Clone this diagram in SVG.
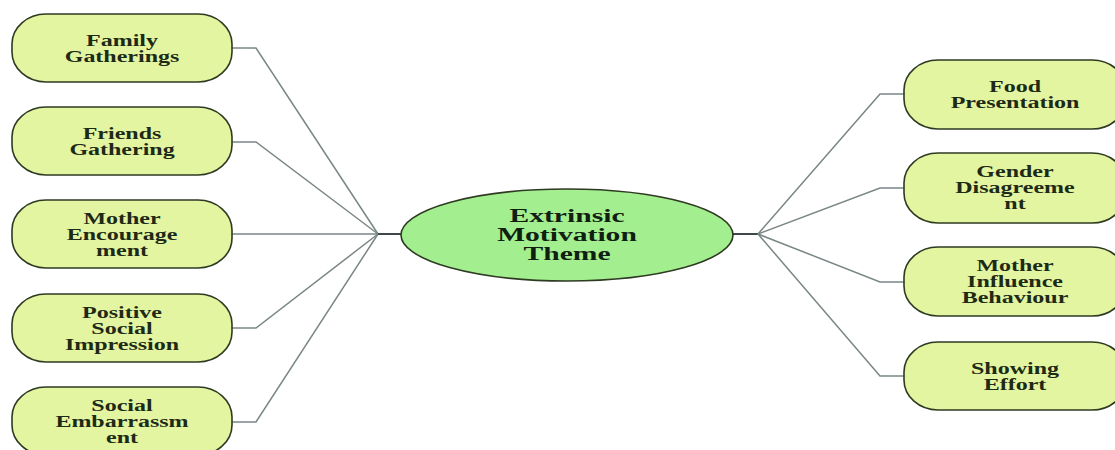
<svg xmlns="http://www.w3.org/2000/svg" width="1115" height="450" viewBox="0 0 1115 450">
<style>
.node{fill:#e4f5a1;stroke:#2e3a22;stroke-width:1.6}
.hub{fill:#a3ef90;stroke:#2e3a22;stroke-width:1.6}
.t{font-family:"Liberation Serif","Times New Roman",serif;font-weight:bold;font-size:16px;fill:#1d2a16;text-anchor:middle}
.tc{font-family:"Liberation Serif","Times New Roman",serif;font-weight:bold;font-size:18.5px;fill:#102010;text-anchor:middle}
.c{fill:none;stroke:#7a8686;stroke-width:1.5}
.cs{fill:none;stroke:#3e4848;stroke-width:2}
</style>
<rect width="1115" height="450" fill="#ffffff"/>
<g id="connectors">
<polyline class="c" points="232,48 256,48 378,234"/>
<polyline class="c" points="232,142 256,142 378,234"/>
<polyline class="c" points="232,234 378,234"/>
<polyline class="c" points="232,328 256,328 378,234"/>
<polyline class="c" points="232,422 256,422 378,234"/>
<line class="cs" x1="378" y1="234" x2="402" y2="234"/>
<line class="cs" x1="733" y1="234" x2="758" y2="234"/>
<polyline class="c" points="758,234 880,94 904,94"/>
<polyline class="c" points="758,234 880,188 904,188"/>
<polyline class="c" points="758,234 880,282 904,282"/>
<polyline class="c" points="758,234 880,376 904,376"/>
</g>
<g id="center">
<ellipse class="hub" cx="567" cy="235" rx="166" ry="46"/>
<g transform="translate(567,0) scale(1.6,1)">
<text class="tc" x="0" y="222.5">Extrinsic</text>
<text class="tc" x="0" y="241.5">Motivation</text>
<text class="tc" x="0" y="260">Theme</text>
</g>
</g>
<g id="family-gatherings">
<rect class="node" x="12" y="14" width="220" height="68" rx="34" ry="30"/>
<g transform="translate(122,0) scale(1.5,1)">
<text class="t" x="0" y="46">Family</text>
<text class="t" x="0" y="62">Gatherings</text>
</g>
</g>
<g id="friends-gathering">
<rect class="node" x="12" y="107" width="220" height="68" rx="34" ry="30"/>
<g transform="translate(122,0) scale(1.5,1)">
<text class="t" x="0" y="139">Friends</text>
<text class="t" x="0" y="155">Gathering</text>
</g>
</g>
<g id="mother-encouragement">
<rect class="node" x="12" y="200" width="220" height="68" rx="34" ry="30"/>
<g transform="translate(122,0) scale(1.5,1)">
<text class="t" x="0" y="224">Mother</text>
<text class="t" x="0" y="240">Encourage</text>
<text class="t" x="0" y="256">ment</text>
</g>
</g>
<g id="positive-social-impression">
<rect class="node" x="12" y="294" width="220" height="68" rx="34" ry="30"/>
<g transform="translate(122,0) scale(1.5,1)">
<text class="t" x="0" y="318">Positive</text>
<text class="t" x="0" y="334">Social</text>
<text class="t" x="0" y="350">Impression</text>
</g>
</g>
<g id="social-embarrassment">
<rect class="node" x="12" y="387" width="220" height="68" rx="34" ry="30"/>
<g transform="translate(122,0) scale(1.5,1)">
<text class="t" x="0" y="411">Social</text>
<text class="t" x="0" y="427">Embarrassm</text>
<text class="t" x="0" y="443">ent</text>
</g>
</g>
<g id="food-presentation">
<rect class="node" x="904" y="60" width="222" height="69" rx="34" ry="30"/>
<g transform="translate(1015,0) scale(1.5,1)">
<text class="t" x="0" y="92">Food</text>
<text class="t" x="0" y="108">Presentation</text>
</g>
</g>
<g id="gender-disagreement">
<rect class="node" x="904" y="153" width="222" height="70" rx="34" ry="30"/>
<g transform="translate(1015,0) scale(1.5,1)">
<text class="t" x="0" y="177">Gender</text>
<text class="t" x="0" y="193">Disagreeme</text>
<text class="t" x="0" y="209">nt</text>
</g>
</g>
<g id="mother-influence-behaviour">
<rect class="node" x="904" y="247" width="222" height="69" rx="34" ry="30"/>
<g transform="translate(1015,0) scale(1.5,1)">
<text class="t" x="0" y="271">Mother</text>
<text class="t" x="0" y="287">Influence</text>
<text class="t" x="0" y="303">Behaviour</text>
</g>
</g>
<g id="showing-effort">
<rect class="node" x="904" y="342" width="222" height="68" rx="34" ry="30"/>
<g transform="translate(1015,0) scale(1.5,1)">
<text class="t" x="0" y="374">Showing</text>
<text class="t" x="0" y="390">Effort</text>
</g>
</g>
</svg>
